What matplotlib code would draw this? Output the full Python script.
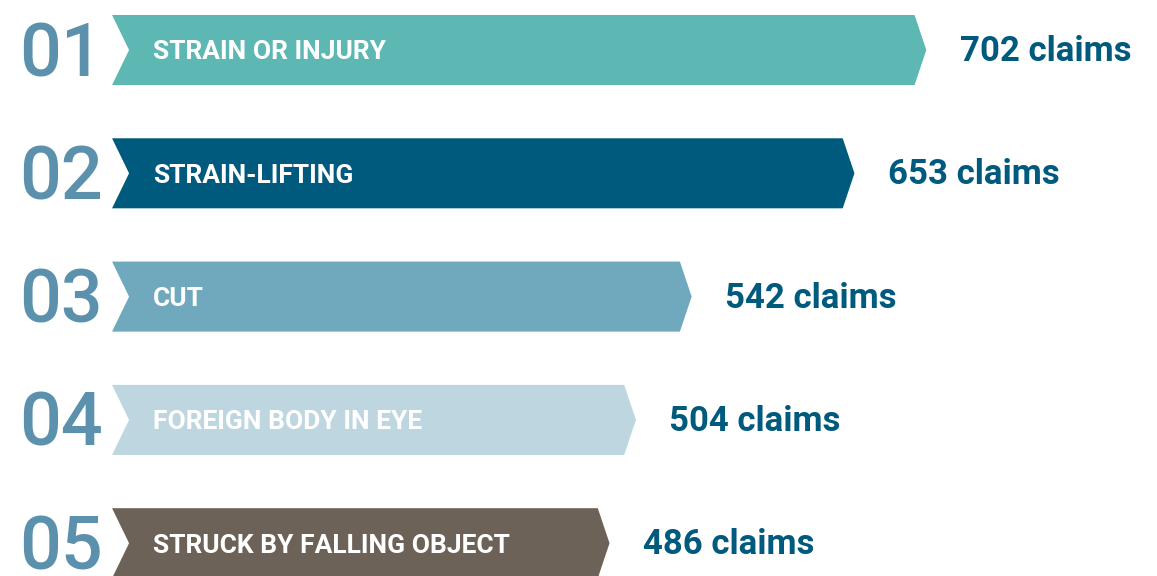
import matplotlib
matplotlib.use("Agg")
import matplotlib.pyplot as plt
from matplotlib.patches import Polygon
from matplotlib.transforms import blended_transform_factory

# data
ranks = ["01", "02", "03", "04", "05"]
causes = ["STRAIN OR INJURY", "STRAIN-LIFTING", "CUT", "FOREIGN BODY IN EYE",
          "STRUCK BY FALLING OBJECT"]
claims = [702, 653, 542, 504, 486]

colors = ["#5db8b3", "#005a7d", "#70a9be", "#bed6df", "#6d6258"]
rank_color = "#5b91ac"
value_color = "#005a7d"

font = ["Roboto", "DejaVu Sans"]

fig = plt.figure(figsize=(11.57, 5.76), dpi=100)
ax = fig.add_axes([0, 0, 1, 1])
ax.set_xlim(70.4, 859.3)
ax.set_ylim(4.266, -0.4055)
ax.axis("off")

base = 146.8       # where the ribbons start on the value axis
bar_h = 0.568
notch = 11.6       # left notch depth, value units
tip = 8.0          # right arrow depth, value units

fig_x = blended_transform_factory(fig.transFigure, ax.transData)

for i, (rk, cause, val) in enumerate(zip(ranks, causes, claims)):
    top, bot = i - bar_h / 2, i + bar_h / 2
    pts = [(base, top), (val - tip, top), (val, i), (val - tip, bot),
           (base, bot), (base + notch, i)]
    ax.add_patch(Polygon(pts, closed=True, facecolor=colors[i], edgecolor="none"))

    ax.text(19 / 1157, i + 0.045, rk, transform=fig_x, ha="left", va="center",
            fontsize=53, fontweight="medium", color=rank_color, family=font)
    ax.text(153 / 1157, i, cause, transform=fig_x, ha="left", va="center_baseline",
            fontsize=19, fontweight="bold", color="white", family=font)
    ax.annotate("%d claims" % val, xy=(val, i), xytext=(24, 1.5),
                textcoords="offset points", ha="left", va="center_baseline",
                fontsize=25, fontweight="bold", color=value_color, family=font)

fig.savefig("out.png", dpi=100)
